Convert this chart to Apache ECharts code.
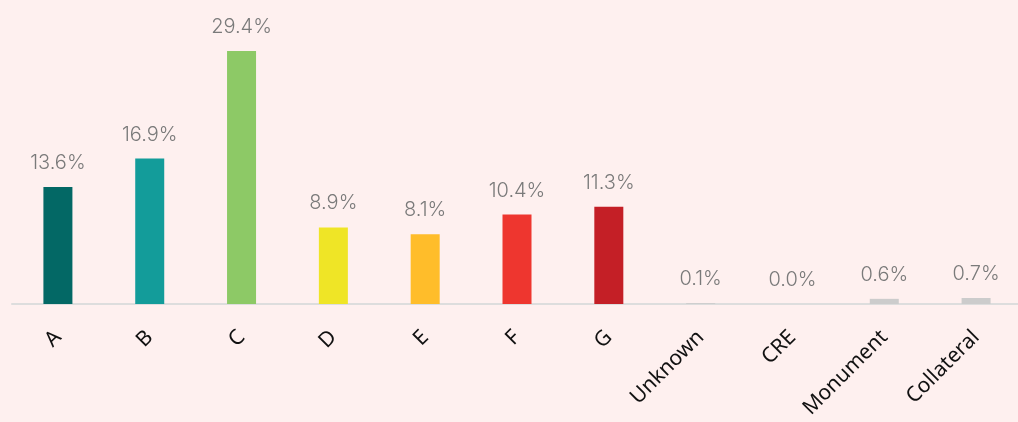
<!DOCTYPE html>
<html>
<head>
<meta charset="utf-8">
<script src="https://cdn.jsdelivr.net/npm/echarts@6/dist/echarts.min.js"></script>
<style>
  html, body { margin: 0; padding: 0; background: #fef0ef; }
  #chart { width: 1018px; height: 422px; }
</style>
</head>
<body>
<div id="chart"></div>
<script>
const categories = ['A', 'B', 'C', 'D', 'E', 'F', 'G', 'Unknown', 'CRE', 'Monument', 'Collateral']
const shares = [13.6, 16.9, 29.4, 8.9, 8.1, 10.4, 11.3, 0.1, 0.0, 0.6, 0.7]
const barColors = ['#036865', '#139c9a', '#8dc966', '#efe526', '#ffbd2a', '#ee362f', '#c41f26',
  '#cccccc', '#cccccc', '#cccccc', '#cccccc']

const chart = echarts.init(document.getElementById('chart'))
chart.setOption({
  backgroundColor: '#fef0ef',
  animation: false,
  grid: {
    left: 12,
    width: 1010,
    top: 51,
    bottom: 118,
    containLabel: false,
    outerBoundsMode: 'none'
  },
  xAxis: {
    type: 'category',
    data: categories,
    axisLine: { lineStyle: { color: '#dddddd', width: 2 } },
    axisTick: { show: false },
    axisLabel: {
      rotate: 45,
      margin: 30,
      color: '#111',
      fontSize: 21,
      fontFamily: 'Noto Sans',
      interval: 0
    }
  },
  yAxis: {
    type: 'value',
    min: 0,
    max: 29.4,
    show: false,
    splitLine: { show: false }
  },
  series: [{
    type: 'bar',
    barWidth: 29,
    data: shares.map((v, i) => ({ value: v, itemStyle: { color: barColors[i] } })),
    label: {
      show: true,
      position: 'top',
      distance: 14,
      color: '#7a7a7a',
      fontSize: 20,
      fontWeight: 300,
      fontFamily: 'Inter',
      formatter: p => p.value.toFixed(1) + '%'
    }
  }]
})
</script>
</body>
</html>
